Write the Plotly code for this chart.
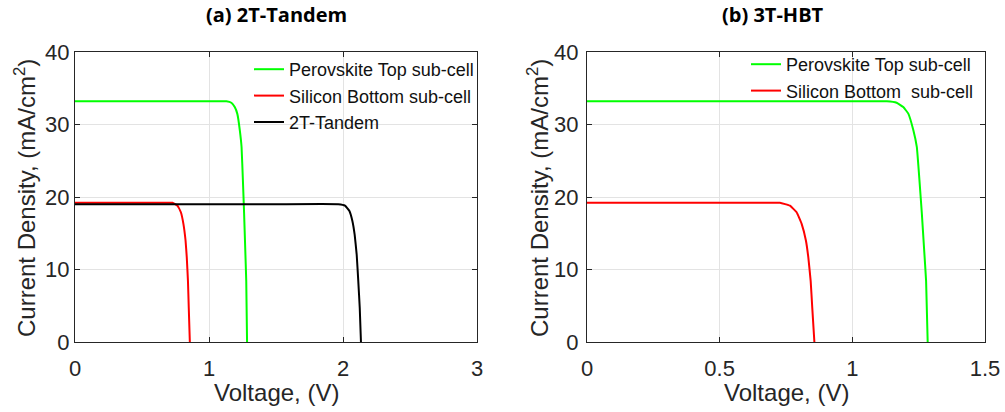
import plotly.graph_objects as go

# ---- data ----
perov_v = [0.0, 0.5, 1.0, 1.130, 1.167, 1.192, 1.211, 1.230, 1.243, 1.253, 1.262, 1.270, 1.278, 1.284]
perov_j = [33.2, 33.2, 33.2, 33.2, 33.0, 32.4, 31.5, 29.2, 26.9, 22.3, 17.7, 13.1, 8.4, 0.0]

si_v = [0.0, 0.3, 0.6, 0.727, 0.765, 0.790, 0.809, 0.825, 0.834, 0.843, 0.849, 0.857]
si_j = [19.2, 19.2, 19.2, 19.2, 18.8, 17.9, 16.3, 14.0, 11.7, 8.4, 4.7, 0.0]

tan_v = [0.0, 0.5, 1.0, 1.5, 1.965, 2.015, 2.047, 2.070, 2.087, 2.102, 2.114, 2.125, 2.134]
tan_j = [19.0, 19.0, 19.0, 19.0, 19.0, 18.8, 18.1, 16.7, 14.8, 12.1, 8.4, 4.7, 0.0]

names = ["Perovskite Top sub-cell", "Silicon Bottom sub-cell", "2T-Tandem"]
names_b = ["Perovskite Top sub-cell", "Silicon Bottom\u00a0 sub-cell"]
titles = ["<b>(a) 2T-Tandem</b>", "<b>(b) 3T-HBT</b>"]
x_ticks_a = [0, 1, 2, 3]
x_ticks_b = [0, 0.5, 1, 1.5]
y_ticks = [0, 10, 20, 30, 40]

GREEN, RED, BLACK = "#00ff00", "#ff0000", "#000000"
W, H = 1005, 412
FONT = "Liberation Sans, Arial, sans-serif"
AX = "#262626"


def line(color):
    return dict(color=color, width=2, shape="spline", smoothing=0.3)


fig = go.Figure()
# left panel
fig.add_trace(go.Scatter(x=perov_v, y=perov_j, mode="lines", name=names[0],
                         line=line(GREEN), xaxis="x", yaxis="y", legend="legend"))
fig.add_trace(go.Scatter(x=si_v, y=si_j, mode="lines", name=names[1],
                         line=line(RED), xaxis="x", yaxis="y", legend="legend"))
fig.add_trace(go.Scatter(x=tan_v, y=tan_j, mode="lines", name=names[2],
                         line=line(BLACK), xaxis="x", yaxis="y", legend="legend"))
# right panel
fig.add_trace(go.Scatter(x=perov_v, y=perov_j, mode="lines", name=names_b[0],
                         line=line(GREEN), xaxis="x2", yaxis="y2", legend="legend2"))
fig.add_trace(go.Scatter(x=si_v, y=si_j, mode="lines", name=names_b[1],
                         line=line(RED), xaxis="x2", yaxis="y2", legend="legend2"))

ytop = 1 - 52 / H
ybot = 1 - 342 / H
axcommon = dict(showline=True, linecolor=AX, linewidth=1, mirror="ticks",
                ticks="inside", ticklen=5, tickcolor=AX, showgrid=True,
                gridcolor="#e3e3e3", gridwidth=1, zeroline=False, automargin=False,
                tickfont=dict(family=FONT, size=22, color=AX))

fig.update_layout(
    width=W, height=H, margin=dict(l=0, r=0, t=0, b=0),
    paper_bgcolor="white", plot_bgcolor="white",
    font=dict(family=FONT, color=AX),
    xaxis=dict(domain=[75 / W, 477 / W], range=[0, 3], tickvals=x_ticks_a, anchor="y",
               ticklabelstandoff=7, **axcommon),
    yaxis=dict(domain=[ybot, ytop], range=[0, 40], tickvals=y_ticks, anchor="x", **axcommon),
    xaxis2=dict(domain=[587 / W, 985 / W], range=[0, 1.5], tickvals=x_ticks_b, anchor="y2",
                ticklabelstandoff=7, **axcommon),
    yaxis2=dict(domain=[ybot, ytop], range=[0, 40], tickvals=y_ticks, anchor="x2",
                ticklabelstandoff=3, **axcommon),
    legend=dict(x=479 / W, y=1 - 51 / H, xanchor="right", yanchor="top", bgcolor="rgba(0,0,0,0)",
                font=dict(family=FONT, size=18, color="#111111"), tracegroupgap=0),
    legend2=dict(x=979 / W, y=1 - 46 / H, xanchor="right", yanchor="top", bgcolor="rgba(0,0,0,0)",
                 font=dict(family=FONT, size=18, color="#111111"), tracegroupgap=0),
    showlegend=True,
)

ann = []
for cx, t in ((276, titles[0]), (773, titles[1])):
    ann.append(dict(text=t, x=cx / W, y=1 - 15 / H, xref="paper", yref="paper",
                    xanchor="center", yanchor="middle", showarrow=False,
                    font=dict(family="Open Sans, sans-serif", size=20, color="#000")))
for cx in (276, 786):
    ann.append(dict(text="Voltage, (V)", x=cx / W, y=1 - 392 / H, xref="paper", yref="paper",
                    xanchor="center", yanchor="middle", showarrow=False,
                    font=dict(family=FONT, size=24, color=AX)))
for cx in (25, 538):
    ann.append(dict(text="Current Density, (mA/cm<sup>2</sup>)", x=cx / W, y=1 - 198 / H,
                    xref="paper", yref="paper", xanchor="center", yanchor="middle",
                    textangle=-90, showarrow=False,
                    font=dict(family=FONT, size=24, color=AX)))
fig.update_layout(annotations=ann)

fig.write_html("out.html")
